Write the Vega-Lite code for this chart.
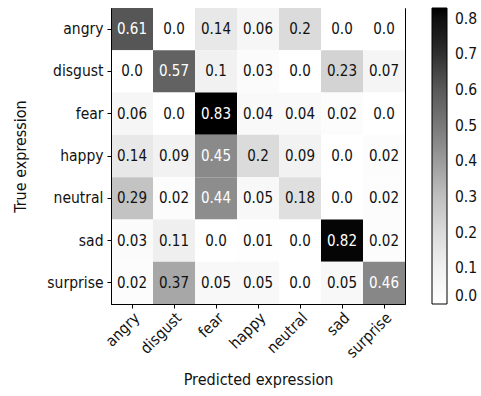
{
  "$schema": "https://vega.github.io/schema/vega-lite/v6.json",
  "width": 294,
  "height": 296,
  "autosize": {"type": "none"},
  "padding": {"left": 111, "top": 8, "right": 76, "bottom": 92},
  "background": "white",
  "config": {
    "font": "DejaVu Sans Condensed",
    "view": {"stroke": "black", "strokeWidth": 1},
    "axis": {
      "domainColor": "black",
      "tickColor": "black",
      "labelColor": "#111111",
      "titleColor": "#111111",
      "labelFont": "DejaVu Sans Condensed",
      "titleFont": "DejaVu Sans Condensed",
      "labelFontSize": 15.5,
      "titleFontSize": 16,
      "titleFontWeight": "normal",
      "tickSize": 4,
      "grid": false
    },
    "legend": {"labelFontSize": 15.5, "labelColor": "#111111", "labelFont": "DejaVu Sans Condensed"}
  },
  "data": {
    "values": [
      {"t": "angry", "p": "angry", "v": 0.61, "label": "0.61"},
      {"t": "angry", "p": "disgust", "v": 0.0, "label": "0.0"},
      {"t": "angry", "p": "fear", "v": 0.14, "label": "0.14"},
      {"t": "angry", "p": "happy", "v": 0.06, "label": "0.06"},
      {"t": "angry", "p": "neutral", "v": 0.2, "label": "0.2"},
      {"t": "angry", "p": "sad", "v": 0.0, "label": "0.0"},
      {"t": "angry", "p": "surprise", "v": 0.0, "label": "0.0"},
      {"t": "disgust", "p": "angry", "v": 0.0, "label": "0.0"},
      {"t": "disgust", "p": "disgust", "v": 0.57, "label": "0.57"},
      {"t": "disgust", "p": "fear", "v": 0.1, "label": "0.1"},
      {"t": "disgust", "p": "happy", "v": 0.03, "label": "0.03"},
      {"t": "disgust", "p": "neutral", "v": 0.0, "label": "0.0"},
      {"t": "disgust", "p": "sad", "v": 0.23, "label": "0.23"},
      {"t": "disgust", "p": "surprise", "v": 0.07, "label": "0.07"},
      {"t": "fear", "p": "angry", "v": 0.06, "label": "0.06"},
      {"t": "fear", "p": "disgust", "v": 0.0, "label": "0.0"},
      {"t": "fear", "p": "fear", "v": 0.83, "label": "0.83"},
      {"t": "fear", "p": "happy", "v": 0.04, "label": "0.04"},
      {"t": "fear", "p": "neutral", "v": 0.04, "label": "0.04"},
      {"t": "fear", "p": "sad", "v": 0.02, "label": "0.02"},
      {"t": "fear", "p": "surprise", "v": 0.0, "label": "0.0"},
      {"t": "happy", "p": "angry", "v": 0.14, "label": "0.14"},
      {"t": "happy", "p": "disgust", "v": 0.09, "label": "0.09"},
      {"t": "happy", "p": "fear", "v": 0.45, "label": "0.45"},
      {"t": "happy", "p": "happy", "v": 0.2, "label": "0.2"},
      {"t": "happy", "p": "neutral", "v": 0.09, "label": "0.09"},
      {"t": "happy", "p": "sad", "v": 0.0, "label": "0.0"},
      {"t": "happy", "p": "surprise", "v": 0.02, "label": "0.02"},
      {"t": "neutral", "p": "angry", "v": 0.29, "label": "0.29"},
      {"t": "neutral", "p": "disgust", "v": 0.02, "label": "0.02"},
      {"t": "neutral", "p": "fear", "v": 0.44, "label": "0.44"},
      {"t": "neutral", "p": "happy", "v": 0.05, "label": "0.05"},
      {"t": "neutral", "p": "neutral", "v": 0.18, "label": "0.18"},
      {"t": "neutral", "p": "sad", "v": 0.0, "label": "0.0"},
      {"t": "neutral", "p": "surprise", "v": 0.02, "label": "0.02"},
      {"t": "sad", "p": "angry", "v": 0.03, "label": "0.03"},
      {"t": "sad", "p": "disgust", "v": 0.11, "label": "0.11"},
      {"t": "sad", "p": "fear", "v": 0.0, "label": "0.0"},
      {"t": "sad", "p": "happy", "v": 0.01, "label": "0.01"},
      {"t": "sad", "p": "neutral", "v": 0.0, "label": "0.0"},
      {"t": "sad", "p": "sad", "v": 0.82, "label": "0.82"},
      {"t": "sad", "p": "surprise", "v": 0.02, "label": "0.02"},
      {"t": "surprise", "p": "angry", "v": 0.02, "label": "0.02"},
      {"t": "surprise", "p": "disgust", "v": 0.37, "label": "0.37"},
      {"t": "surprise", "p": "fear", "v": 0.05, "label": "0.05"},
      {"t": "surprise", "p": "happy", "v": 0.05, "label": "0.05"},
      {"t": "surprise", "p": "neutral", "v": 0.0, "label": "0.0"},
      {"t": "surprise", "p": "sad", "v": 0.05, "label": "0.05"},
      {"t": "surprise", "p": "surprise", "v": 0.46, "label": "0.46"}
    ]
  },
  "encoding": {
    "x": {
      "field": "p", "type": "nominal",
      "sort": ["angry", "disgust", "fear", "happy", "neutral", "sad", "surprise"],
      "scale": {"paddingInner": 0, "paddingOuter": 0},
      "axis": {"title": "Predicted expression", "labelAngle": -45, "labelAlign": "right", "labelBaseline": "top", "labelPadding": 2, "titlePadding": 11}
    },
    "y": {
      "field": "t", "type": "nominal",
      "sort": ["angry", "disgust", "fear", "happy", "neutral", "sad", "surprise"],
      "scale": {"paddingInner": 0, "paddingOuter": 0},
      "axis": {"title": "True expression", "labelPadding": 4, "titlePadding": 18}
    }
  },
  "layer": [
    {
      "mark": {"type": "rect"},
      "encoding": {
        "color": {
          "field": "v", "type": "quantitative",
          "scale": {
            "domain": [0, 0.10375, 0.2075, 0.31125, 0.415, 0.51875, 0.6225, 0.72625, 0.83],
            "range": ["#ffffff", "#f0f0f0", "#d9d9d9", "#bdbdbd", "#969696", "#737373", "#525252", "#252525", "#000000"]
          },
          "legend": {
            "title": null,
            "gradientLength": 296,
            "gradientThickness": 15,
            "gradientStrokeColor": "black",
            "gradientStrokeWidth": 1,
            "offset": 27,
            "values": [0, 0.1, 0.2, 0.3, 0.4, 0.5, 0.6, 0.7, 0.8],
            "format": ".1f",
            "labelOffset": 8
          }
        }
      }
    },
    {
      "mark": {"type": "text", "fontSize": 15, "font": "DejaVu Sans Condensed"},
      "encoding": {
        "text": {"field": "label", "type": "nominal"},
        "color": {
          "condition": {"test": "datum.v > 0.415", "value": "white"},
          "value": "#111111"
        }
      }
    }
  ]
}
